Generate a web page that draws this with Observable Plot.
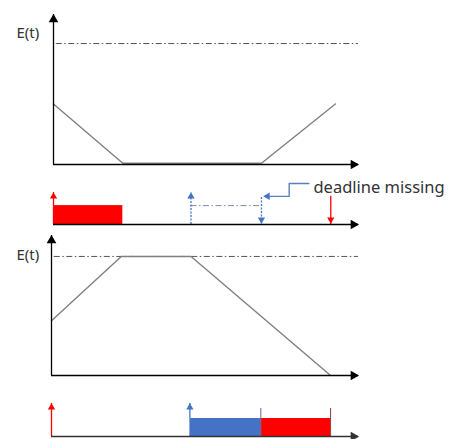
<!DOCTYPE html>
<html><head><meta charset="utf-8">
<script src="https://cdn.jsdelivr.net/npm/d3@7"></script>
<script src="https://cdn.jsdelivr.net/npm/@observablehq/plot@0.6"></script>
<style>
body{margin:0;background:#fff;}
#chart{width:449px;height:439px;overflow:hidden;font-family:"Noto Sans",sans-serif;}
#chart svg{display:block;}
</style></head><body><div id="chart"></div>
<script>
// ---- shared ----
const tMax = 13.2;            // end of every time axis (arrow tip)
const eMax = 1;               // maximum storable energy (dash-dot level)
const red = "#ff0000", blue = "#4472c4";
const energyLabel = "E(t)";

// ---- scenario 1 : energy trace ----
const s1Time   = [0, 3, 9, 12.2];
const s1Energy = [0.5, 0.01, 0.01, 0.5];
// ---- scenario 1 : schedule ----
const s1Jobs      = [{start: 0, end: 3, top: 0.59, color: red}];
const s1Releases  = [{t: 0, from: 0, to: 1, color: red, dash: null},
                     {t: 5.95, from: 0, to: 1, color: blue, dash: "2,1.5"}];
const s1Deadlines = [{t: 9, from: 0.84, to: 0, color: blue, dash: "2,1.5"},
                     {t: 12, from: 0.88, to: 0, color: red, dash: null}];
const s1Window    = [{start: 5.95, end: 9, level: 0.59}];
const s1Note      = [{t: 11.25, y: 1.16, text: "deadline missing"}];
const s1Callout   = [{t: 11.05, y: 1.28}, {t: 10.2, y: 1.28}, {t: 10.2, y: 0.88}, {t: 9.35, y: 0.88}];

// ---- scenario 2 : energy trace ----
const s2Time   = [0, 3, 6, 12];
const s2Energy = [0.46, 1, 1, 0];
// ---- scenario 2 : schedule ----
const s2Jobs      = [{start: 5.95, end: 9, top: 0.545, color: blue},
                     {start: 9, end: 12, top: 0.545, color: red}];
const s2Releases  = [{t: 0, from: 0, to: 1, color: red},
                     {t: 5.95, from: 0.545, to: 1, color: blue}];
const s2Deadlines = [{t: 9, from: 0.85, to: 0, color: "#5f6f8f"},
                     {t: 12, from: 0.85, to: 0, color: "#8a3a3a"}];

const dashDot = "6,2.5,1.5,2.5";

function axes(yTop, axisColor, withY) {
  const m = [
    Plot.ruleY([0], {x1: 0, x2: tMax, stroke: axisColor, strokeWidth: 1.3}),
    Plot.dot([{t: tMax, y: 0}], {x: "t", y: "y", symbol: "triangle", r: 3.6, rotate: 90, fill: axisColor, stroke: "none", dx: -5})
  ];
  if (withY) {
    m.push(Plot.ruleX([0], {y1: 0, y2: yTop, stroke: axisColor, strokeWidth: 1.3}));
    m.push(Plot.dot([{t: 0, y: yTop}], {x: "t", y: "y", symbol: "triangle", r: 3.6, fill: axisColor, stroke: "none", dy: 5}));
  }
  return m;
}

function energyPanel({height, ml, mt, mb, yTop, time, energy, ldx, ldy}) {
  const data = time.map((t, i) => ({t, e: energy[i]}));
  return Plot.plot({
    width: 449, height, marginLeft: ml, marginRight: 91, marginTop: mt, marginBottom: mb,
    style: {background: "transparent", overflow: "visible"},
    x: {domain: [0, tMax], axis: null},
    y: {domain: [0, yTop], axis: null},
    marks: [
      Plot.ruleY([eMax], {x1: 0.12, x2: tMax, stroke: "#555", strokeWidth: 1, strokeDasharray: dashDot}),
      Plot.line(data, {x: "t", y: "e", stroke: "#808080", strokeWidth: 1.4}),
      ...axes(yTop, "#000", true),
      Plot.text([energyLabel], {frameAnchor: "top-left", dx: ldx, dy: ldy, textAnchor: "start",
        fontSize: 15, fill: "#333", fontFamily: "Noto Sans"})
    ]
  });
}

function schedulePanel({height, ml, mb, yTop, marks}) {
  return Plot.plot({
    width: 449, height, marginLeft: ml, marginRight: 91, marginTop: 0, marginBottom: mb,
    style: {background: "transparent", overflow: "visible"},
    x: {domain: [0, tMax], axis: null},
    y: {domain: [0, yTop], axis: null},
    color: {type: "identity"},
    marks
  });
}

const root = document.getElementById("chart");

root.append(energyPanel({height: 170, ml: 53, mt: 14, mb: 6, yTop: 1.24,
  time: s1Time, energy: s1Energy, ldx: -37, ldy: 13}));

root.append(schedulePanel({height: 60, ml: 53, mb: 6, yTop: 54 / 32, marks: [
  Plot.rect(s1Jobs, {x1: "start", x2: "end", y1: 0, y2: "top", fill: "color"}),
  Plot.ruleY(s1Window, {y: "level", x1: "start", x2: "end", stroke: "#7a8aa8", strokeWidth: 1, strokeDasharray: dashDot}),
  Plot.ruleX(s1Releases.filter(d => !d.dash), {x: "t", y1: "from", y2: "to", stroke: "color", strokeWidth: 1.3}),
  Plot.ruleX(s1Releases.filter(d => d.dash), {x: "t", y1: "from", y2: "to", stroke: "color", strokeWidth: 1.3, strokeDasharray: "2,1.5"}),
  Plot.dot(s1Releases, {x: "t", y: "to", symbol: "triangle", r: 2.7, fill: "color", stroke: "none", dy: 4}),
  Plot.ruleX(s1Deadlines.filter(d => !d.dash), {x: "t", y1: "from", y2: "to", stroke: "color", strokeWidth: 1.3}),
  Plot.ruleX(s1Deadlines.filter(d => d.dash), {x: "t", y1: "from", y2: "to", stroke: "color", strokeWidth: 1.3, strokeDasharray: "2,1.5"}),
  Plot.dot(s1Deadlines, {x: "t", y: "to", symbol: "triangle", r: 2.7, rotate: 180, fill: "color", stroke: "none", dy: -5}),
  ...axes(0, "#000", false),
  Plot.line(s1Callout, {x: "t", y: "y", stroke: "#5b7fbf", strokeWidth: 1.4}),
  Plot.dot(s1Callout.slice(-1), {x: "t", y: "y", symbol: "triangle", r: 2.8, rotate: 270, fill: "#4472c4", stroke: "none", dx: -2}),
  Plot.text(s1Note, {x: "t", y: "y", text: "text", textAnchor: "start", fontSize: 16.5, fill: "#333", fontFamily: "Noto Sans"})
]}));

root.append(energyPanel({height: 150, ml: 51, mt: 5, mb: 5, yTop: 1.176,
  time: s2Time, energy: s2Energy, ldx: -35, ldy: 14}));

root.append(schedulePanel({height: 59, ml: 51, mb: 3, yTop: 56 / 33, marks: [
  Plot.rect(s2Jobs, {x1: "start", x2: "end", y1: 0, y2: "top", fill: "color"}),
  Plot.ruleX(s2Deadlines, {x: "t", y1: "from", y2: "to", stroke: "color", strokeWidth: 1}),
  Plot.ruleX(s2Releases, {x: "t", y1: "from", y2: "to", stroke: "color", strokeWidth: 1.3}),
  Plot.dot(s2Releases, {x: "t", y: "to", symbol: "triangle", r: 2.7, fill: "color", stroke: "none", dy: 4}),
  ...axes(0, "#333", false)
]}));
</script>
</body></html>
